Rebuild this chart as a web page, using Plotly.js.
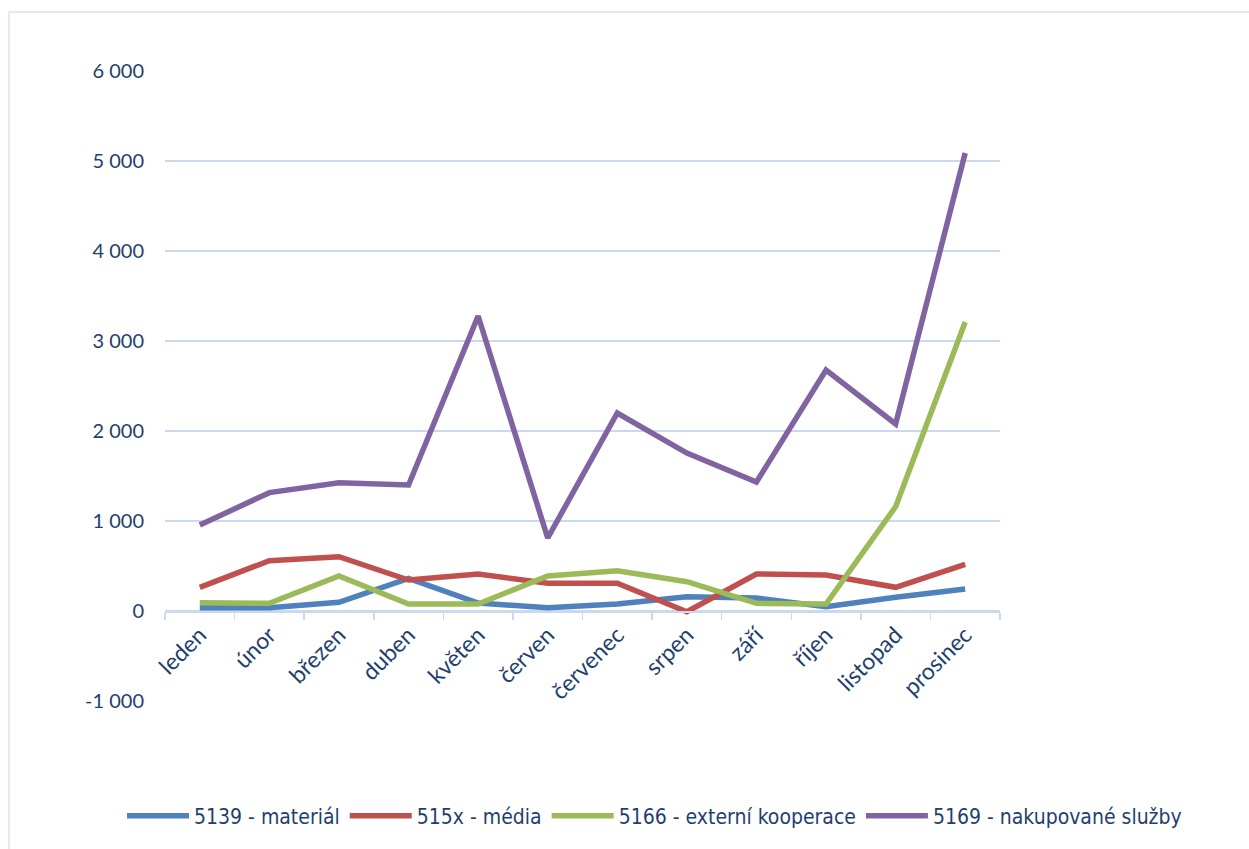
<!DOCTYPE html>
<html>
<head>
<meta charset="utf-8">
<script src="https://cdn.plot.ly/plotly-3.0.1.min.js"></script>
<style>html,body{margin:0;padding:0;background:#fff;}#chart{width:1249px;height:849px;}</style>
</head>
<body>
<div id="chart"></div>
<script>
var months = ["leden","únor","březen","duben","květen","červen","červenec","srpen","září","říjen","listopad","prosinec"];
var material = [37, 37, 96, 363, 89, 37, 78, 159, 144, 48, 152, 244];
var media = [263, 559, 603, 344, 411, 308, 308, -8, 411, 400, 263, 519];
var kooperace = [93, 85, 389, 78, 78, 389, 448, 326, 85, 78, 1159, 3211];
var sluzby = [955, 1315, 1425, 1400, 3278, 811, 2200, 1755, 1433, 2678, 2078, 5089];
var seriesNames = ["5139 - materiál", "515x - média", "5166 - externí kooperace", "5169 - nakupované služby"];
var yTickVals = [-1000, 0, 1000, 2000, 3000, 4000, 5000, 6000];
var yTickText = ["-1 000", "0", "1 000", "2 000", "3 000", "4 000", "5 000", "6 000"];

var colors = ["#4F81BD", "#C0504D", "#9BBB59", "#8064A2"];
var dataSets = [material, media, kooperace, sluzby];
var textColor = "#1F3F6E";
var font = "Lato, 'Open Sans', sans-serif";
var legendFont = "'DejaVu Sans Condensed', sans-serif";

function draw() {
  var traces = dataSets.map(function (d, i) {
    return {
      type: "scatter", mode: "lines", x: months, y: d, name: seriesNames[i],
      line: {color: colors[i], width: 5.5, shape: "linear"},
      hoverinfo: "x+y"
    };
  });

  var layout = {
    width: 1249, height: 849,
    margin: {l: 165, r: 249, t: 71, b: 148, autoexpand: false},
    paper_bgcolor: "#fff", plot_bgcolor: "#fff",
    showlegend: true,
    legend: {
      orientation: "h", x: 1022 / 835, xanchor: "right", y: -115 / 630, yanchor: "middle",
      font: {family: legendFont, size: 21, color: textColor},
      itemwidth: 62, traceorder: "normal", tracegroupgap: 0
    },
    xaxis: {
      type: "category", anchor: "free", position: 1 / 7,
      showgrid: false, showline: true, linecolor: "#C9D9EE", linewidth: 1.5,
      ticks: "outside", tickson: "boundaries", ticklen: 7, tickcolor: "#C9D9EE", tickwidth: 1.5,
      tickangle: -45, tickfont: {family: font, size: 23, color: textColor},
      range: [-0.5, 11.5], fixedrange: true
    },
    yaxis: {
      range: [-1000, 6000], tickvals: yTickVals, ticktext: yTickText,
      showgrid: true, gridcolor: "#C9D9EE", gridwidth: 1.5,
      zeroline: false, showline: false, ticks: "",
      ticklabelstandoff: 20,
      tickfont: {family: font, size: 20, color: textColor}
    },
    shapes: [{
      type: "rect", xref: "paper", yref: "paper",
      x0: -156 / 835, x1: 1.5, y0: -0.5, y1: 1 + 59 / 630,
      line: {color: "#D6E2F2", width: 1.5}, fillcolor: "rgba(0,0,0,0)", layer: "below"
    }]
  };

  Plotly.newPlot("chart", traces, layout, {displayModeBar: false, staticPlot: true});
}

if (document.fonts && document.fonts.load) {
  Promise.all([
    document.fonts.load("20px Lato"),
    document.fonts.load("21px 'DejaVu Sans Condensed'")
  ]).then(draw, draw);
} else {
  draw();
}
</script>
</body>
</html>
